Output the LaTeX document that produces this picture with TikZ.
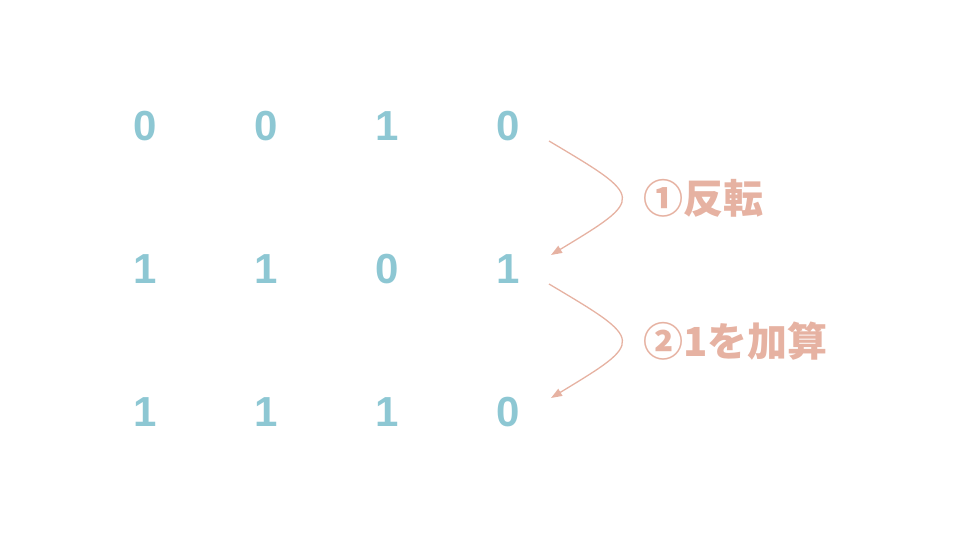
\documentclass[tikz,border=0pt]{standalone}
\usepackage{fontspec}
\setmainfont{Liberation Sans}
\newfontfamily\jpfont{Noto Sans CJK JP}
\usetikzlibrary{arrows.meta}
\definecolor{bitblue}{HTML}{8DC7D3}
\definecolor{notered}{HTML}{E6B2A2}
\tikzset{
  bit/.style={text=bitblue, font=\fontsize{42}{42}\selectfont\bfseries, inner sep=0pt},
  stepnote/.style={text=notered, font=\jpfont\fontsize{40}{40}\selectfont\bfseries, anchor=west, inner sep=0pt},
  turn/.style={draw=notered, line width=1.3pt, -{Triangle[length=11pt,width=8pt]}}
}
\begin{document}
\begin{tikzpicture}[x=1pt, y=-1pt]

    \useasboundingbox (0,0) rectangle (960,540);

    \node[bit] (r1c1) at (145,126) {0};
    \node[bit] (r1c2) at (266,126) {0};
    \node[bit] (r1c3) at (387,126) {1};
    \node[bit] (r1c4) at (508,126) {0};

    \node[bit] (r2c1) at (145,269) {1};
    \node[bit] (r2c2) at (266,269) {1};
    \node[bit] (r2c3) at (387,269) {0};
    \node[bit] (r2c4) at (508,269) {1};

    \node[bit] (r3c1) at (145,412) {1};
    \node[bit] (r3c2) at (266,412) {1};
    \node[bit] (r3c3) at (387,412) {1};
    \node[bit] (r3c4) at (508,412) {0};

    \draw[turn] ([shift={(41pt,-15pt)}]r1c4.center) .. controls (645,198) and (645,198) .. ([shift={(43pt,14pt)}]r2c4.center);

    \draw[turn] ([shift={(41pt,-15pt)}]r2c4.center) .. controls (645,341) and (645,341) .. ([shift={(43pt,14pt)}]r3c4.center);

    \node[stepnote] (invert) at (643,198) {①反転};

    \node[stepnote] (addone) at (643,341) {②1を加算};

  \end{tikzpicture}
\end{document}
